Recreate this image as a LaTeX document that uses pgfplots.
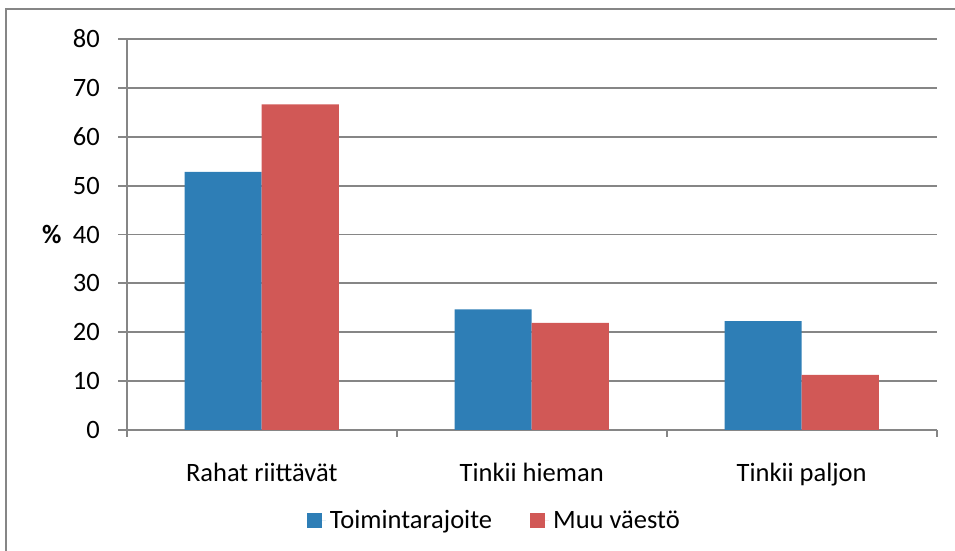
\documentclass[border=0pt]{standalone}
\usepackage{pgfplots}
\pgfplotsset{compat=1.18}
\usepackage{fontspec}
\setmainfont{Carlito}
\definecolor{barblue}{RGB}{46,126,182}
\definecolor{barred}{RGB}{209,88,86}
\definecolor{linegray}{RGB}{134,134,134}
\begin{document}
\begin{tikzpicture}
\begin{axis}[
  scale only axis,
  width=405pt, height=195.5pt,
  ybar=0pt, bar width=0.2857,
  xmin=-0.5, xmax=2.5,
  ymin=0, ymax=80,
  ytick={0,10,...,80},
  xtick={0,1,2},
  xticklabels={Rahat riittävät, Tinkii hieman, Tinkii paljon},
  minor xtick={-0.5,0.5,1.5,2.5},
  major x tick style={draw=none},
  minor tick length=3.5pt,
  major tick length=4.3pt,
  tick align=outside,
  axis x line*=bottom, axis y line*=left,
  axis line style={linegray, line width=0.9pt, -},
  every tick/.style={linegray, line width=0.9pt},
  ymajorgrids,
  grid style={linegray, line width=0.9pt},
  font=\fontsize{13.25}{15}\selectfont,
  /pgf/number format/assume math mode=true,
  yticklabel style={anchor=east, inner sep=0pt, xshift=-9pt},
  xticklabel style={anchor=north, inner sep=0pt, yshift=-12pt},
  ylabel={\%},
  every axis y label/.style={at={(axis description cs:0,0.5)}, anchor=center, xshift=-37.4pt, font=\fontsize{13.25}{15}\selectfont\bfseries},
  legend columns=2,
  legend style={draw=none, fill=none, at={(axis description cs:0.455,-0.2327)}, anchor=center,
    font=\fontsize{13.25}{15}\selectfont,
    /tikz/every even column/.append style={column sep=17pt}},
  legend image code/.code={\fill[#1] (0pt,-3.75pt) rectangle (7.5pt,3.75pt);
    \path (0pt,0pt) -- (9.5pt,0pt);},
]
\addplot[fill=barblue, draw=none] coordinates {(0,52.8) (1,24.7) (2,22.3)};
\addplot[fill=barred, draw=none] coordinates {(0,66.6) (1,21.9) (2,11.3)};
\legend{Toimintarajoite, Muu väestö}
\end{axis}
\draw[linegray, line width=1pt] (-60.35pt,-60.5pt) -- (-60.35pt,210.5pt) -- (414.15pt,210.5pt);
\pgfresetboundingbox
\path (-63.35pt,-60.5pt) rectangle (414.15pt,215pt);
\end{tikzpicture}
\end{document}
